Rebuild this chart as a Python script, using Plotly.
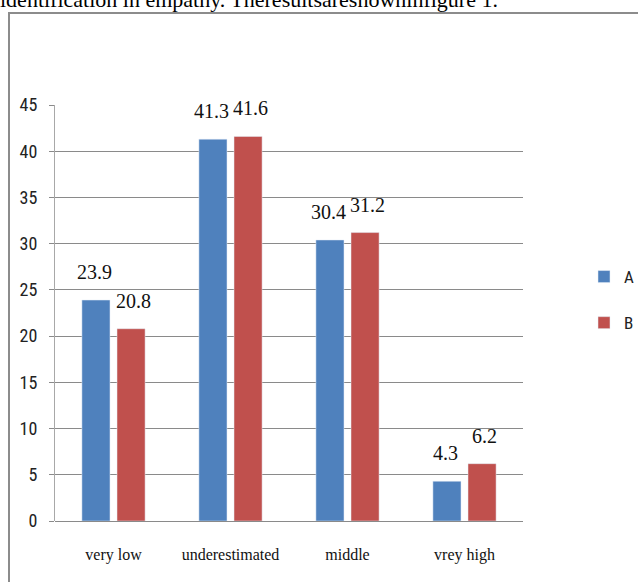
import plotly.graph_objects as go

categories = ["very low", "underestimated", "middle", "vrey high"]
series_a = [23.9, 41.3, 30.4, 4.3]
series_b = [20.8, 41.6, 31.2, 6.2]
series_names = ["A", "B"]
y_ticks = [0, 5, 10, 15, 20, 25, 30, 35, 40, 45]

W, H = 638, 582
L, R, T, B = 55, 115, 105, 61
PW, PH = W - L - R, H - T - B

def px_x(p):
    return (p - L) / PW

def px_y(p):
    return 1 - (p - T) / PH

blue = "#4F81BD"
red = "#C0504D"
narrow = "Liberation Sans Narrow, Roboto Condensed, DejaVu Sans Condensed, sans-serif"
serif = "Liberation Serif, Times New Roman, serif"

fig = go.Figure()
fig.add_trace(go.Bar(x=categories, y=series_a, name=series_names[0], marker_color=blue,
                     legendgroup="a"))
fig.add_trace(go.Bar(x=categories, y=series_b, name=series_names[1], marker_color=red,
                     legendgroup="b"))

annotations = []
for vals, shift in ((series_a, -19.5), (series_b, 19.5)):
    for c, v in zip(categories, vals):
        annotations.append(dict(x=c, y=v, xref="x", yref="y", text=f"{v}", showarrow=False,
                                xshift=shift, yshift=15, yanchor="bottom",
                                font=dict(family=serif, size=20, color="#111")))

annotations.append(dict(x=px_x(-2), y=px_y(14), xref="paper", yref="paper", xanchor="left",
                        yanchor="bottom", showarrow=False,
                        text="identification in empathy. Theresultsareshowninfigure 1.",
                        font=dict(family=serif, size=22, color="#000")))

fig.update_layout(
    width=W, height=H,
    margin=dict(l=L, r=R, t=T, b=B, autoexpand=False),
    paper_bgcolor="white", plot_bgcolor="white",
    barmode="group", bargap=0.4, bargroupgap=0.2,
    showlegend=True,
    legend=dict(xref="container", yref="container", x=584 / W, y=1 - 259 / H,
                xanchor="left", yanchor="top",
                font=dict(family=narrow, size=17, color="#222"),
                tracegroupgap=21, itemwidth=30, bgcolor="rgba(0,0,0,0)"),
    annotations=annotations,
    shapes=[dict(type="rect", xref="paper", yref="paper",
                 x0=px_x(9), x1=px_x(660), y0=px_y(13), y1=px_y(620),
                 line=dict(color="#8c8c8c", width=2), layer="below")],
    xaxis=dict(showline=False, showgrid=False, ticks="", tickfont=dict(family=serif, size=16, color="#111"),
               ticklabelstandoff=22),
    yaxis=dict(range=[0, 45], tickvals=y_ticks, showgrid=True, gridcolor="#8a8a8a", gridwidth=1,
               showline=True, linecolor="#a8a8a8", linewidth=1, ticks="outside", ticklen=5,
               tickcolor="#8a8a8a", zeroline=True, zerolinecolor="#8a8a8a", zerolinewidth=1,
               tickfont=dict(family=narrow, size=18, color="#222"), ticklabelstandoff=8),
)

fig.write_html("out.html")
